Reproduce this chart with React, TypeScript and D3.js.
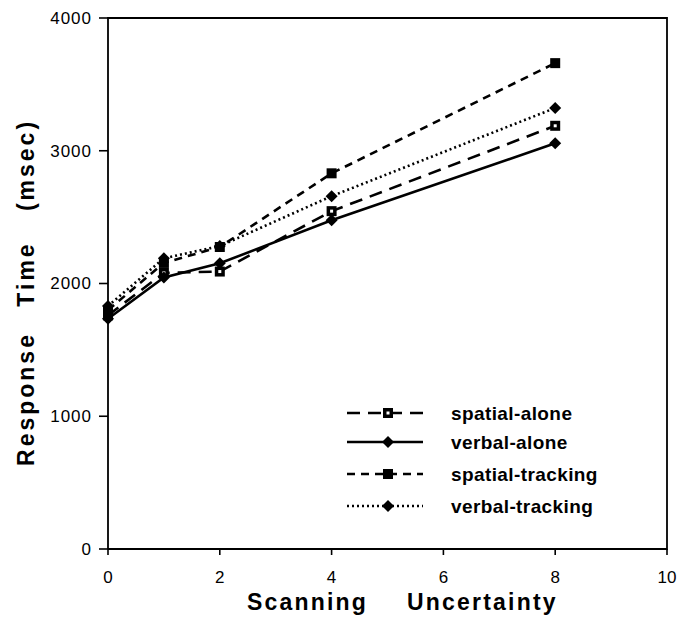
import React from 'react';
import * as d3 from 'd3';

const xValues = [0, 1, 2, 4, 8];
const spatialAlone = [1760, 2080, 2090, 2545, 3188];
const verbalAlone = [1735, 2045, 2152, 2476, 3056];
const spatialTracking = [1800, 2155, 2275, 2830, 3660];
const verbalTracking = [1830, 2190, 2282, 2658, 3322];
const xTicks = [0, 2, 4, 6, 8, 10];
const yTicks = [0, 1000, 2000, 3000, 4000];

const seriesNames = ['spatial-alone', 'verbal-alone', 'spatial-tracking', 'verbal-tracking'];
const seriesData = [spatialAlone, verbalAlone, spatialTracking, verbalTracking];
const dashes = ['13,8', null, '8,6', '2,3'];
const markers = ['openSquare', 'diamond', 'square', 'diamond'];

function Marker({ kind, x, y }: { kind: string; x: number; y: number }) {
  if (kind === 'diamond') {
    const s = 6;
    return <path d={`M${x},${y - s}L${x + s},${y}L${x},${y + s}L${x - s},${y}Z`} fill="#000" />;
  }
  if (kind === 'square') {
    return <rect x={x - 5} y={y - 5} width={10} height={10} fill="#000" />;
  }
  return (
    <g>
      <rect x={x - 5} y={y - 5} width={10} height={10} fill="#000" />
      <rect x={x - 1.5} y={y - 1.5} width={3} height={3} fill="#fff" />
    </g>
  );
}

export default function App() {
  const width = 693, height = 621;
  const left = 108, right = 667, top = 18, bottom = 549;

  const x = d3.scaleLinear().domain([0, 10]).range([left, right]);
  const y = d3.scaleLinear().domain([0, 4000]).range([bottom, top]);

  const line = d3.line<number>()
    .x((d, i) => x(xValues[i]))
    .y(d => y(d));

  const font = '"Liberation Sans", Arial, sans-serif';
  const legendRows = [413, 442, 474, 506];

  return (
    <svg width={width} height={height} style={{ position: 'absolute', left: 0, top: 0, background: '#fff' }}>
      {/* frame */}
      <path d={`M${left},${bottom}V${top}H${right}V${bottom}H${left}`} fill="none" stroke="#000" strokeWidth={1.8} />

      {/* y axis ticks */}
      {yTicks.map(t => (
        <g key={t}>
          <line x1={left - 9} x2={left} y1={y(t)} y2={y(t)} stroke="#000" strokeWidth={1.6} />
          <text x={92} y={y(t)} dy="0.35em" textAnchor="end" fontFamily={font} fontSize={17}
            letterSpacing={1}>{t}</text>
        </g>
      ))}
      {/* x axis ticks */}
      {xTicks.map(t => (
        <g key={t}>
          <line x1={x(t)} x2={x(t)} y1={bottom} y2={bottom + 6} stroke="#000" strokeWidth={1.6} />
          <text x={x(t)} y={583} textAnchor="middle" fontFamily={font} fontSize={17}>{t}</text>
        </g>
      ))}

      {/* series */}
      {seriesData.map((s, i) => (
        <g key={seriesNames[i]}>
          <path d={line(s) || ''} fill="none" stroke="#000" strokeWidth={2.6}
            strokeDasharray={dashes[i] || undefined} />
          {s.map((v, j) => <Marker key={j} kind={markers[i]} x={x(xValues[j])} y={y(v)} />)}
        </g>
      ))}

      {/* legend */}
      {seriesNames.map((n, i) => (
        <g key={n}>
          <line x1={347} x2={423} y1={legendRows[i]} y2={legendRows[i]} stroke="#000" strokeWidth={2.6}
            strokeDasharray={dashes[i] || undefined} />
          <Marker kind={markers[i]} x={388} y={legendRows[i]} />
          <text x={451} y={legendRows[i]} dy="0.35em" fontFamily={font} fontSize={19} fontWeight="bold"
            letterSpacing={0.4}>{n}</text>
        </g>
      ))}

      {/* axis titles */}
      <g fontFamily={font} fontSize={23} fontWeight="bold" letterSpacing={2.2}>
        <text x={247} y={610}>Scanning</text>
        <text x={407} y={610}>Uncertainty</text>
      </g>
      <g fontFamily={font} fontSize={23} fontWeight="bold" letterSpacing={3} textAnchor="middle">
        <text transform="translate(34,399) rotate(-90)">Response</text>
        <text transform="translate(34,274) rotate(-90)">Time</text>
        <text transform="translate(34,165) rotate(-90)">(msec)</text>
      </g>
    </svg>
  );
}
